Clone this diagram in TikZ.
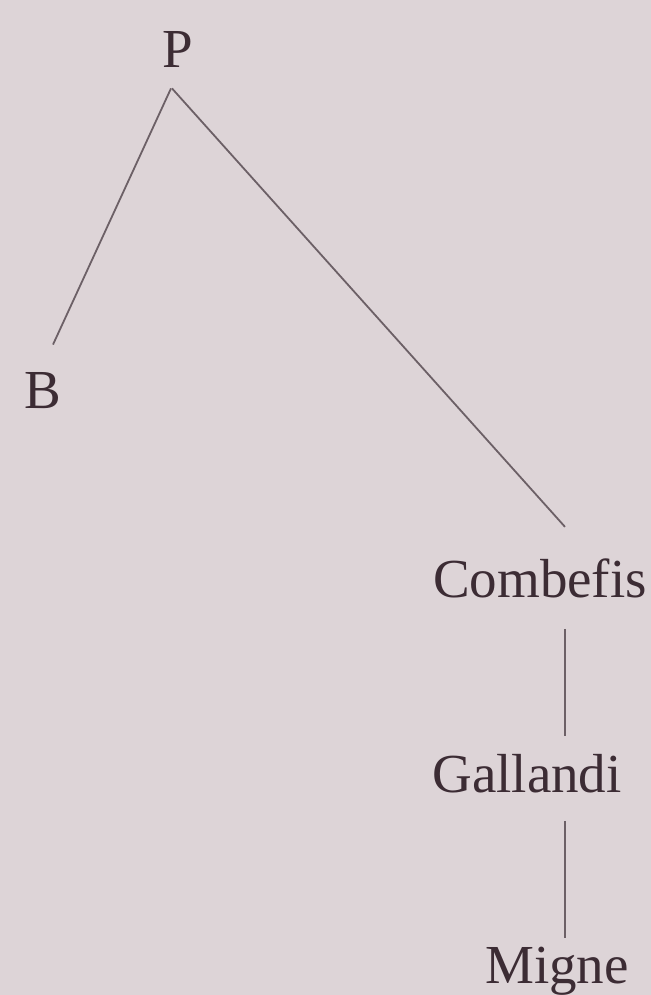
\documentclass[tikz,border=0pt]{standalone}
\usepackage{amsmath,amssymb}
\usepackage{tikz}
\usepackage{xcolor}
\usepackage{fontspec}
\setmainfont{Liberation Serif}
\definecolor{paper}{RGB}{221,212,215}
\definecolor{ink}{RGB}{60,44,52}
\definecolor{stem}{RGB}{108,96,102}

\begin{document}
\begin{tikzpicture}[x=0.5pt,y=-0.5pt,
  wit/.style={inner sep=0pt,anchor=base,text=ink,font=\fontsize{27.5}{31}\selectfont},
  branch/.style={draw=stem,line width=0.9pt}]
\fill[paper] (0,0) rectangle (651,995);
\useasboundingbox (0,0) rectangle (651,995);
\node[wit] at (178,68) (P){P};
\node[wit] at (43,408) (B){B};
\node[wit] at (540,597) (C){Combefis};
\node[wit] at (527,792) (G){Gallandi};
\node[wit] at (557,983) (M){Migne};
\draw[branch] ([shift={(-7,20)}]P.south)--([shift={(10,-27)}]B.north);
\draw[branch] ([shift={(-6,20)}]P.south)--([shift={(25,-31)}]C.north);
\draw[branch] ([shift={(25,31)}]C.south)--([shift={(38,-17)}]G.north);
\draw[branch] ([shift={(38,28)}]G.south)--([shift={(8,-8)}]M.north);
\end{tikzpicture}
\end{document}
